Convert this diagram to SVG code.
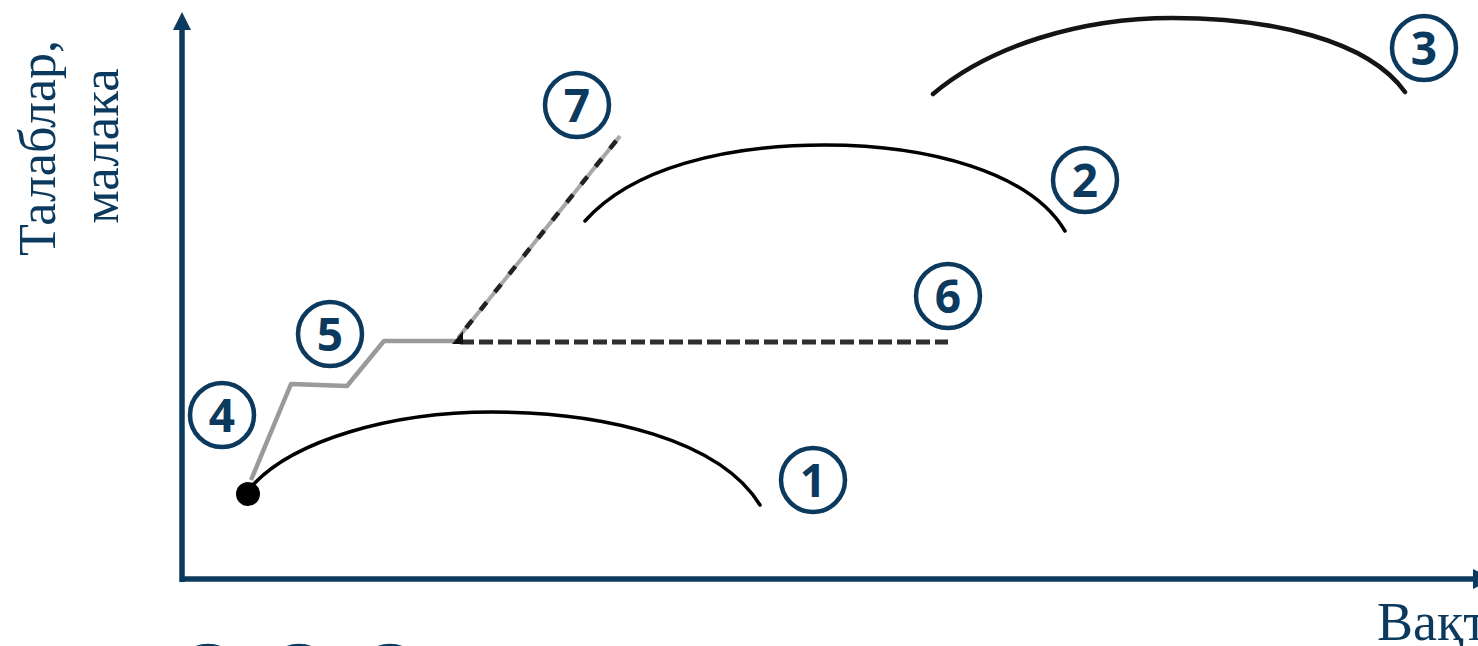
<svg xmlns="http://www.w3.org/2000/svg" width="1478" height="646" viewBox="0 0 1478 646">
<defs>
<style>
.axis{stroke:#0b3a5e;stroke-width:5.5;fill:none}
.ahead{fill:#0b3a5e}
.curve{stroke:#000;stroke-width:3.5;fill:none;stroke-linecap:round}
.badge circle{fill:#fff;stroke:#0b3a5e;stroke-width:4.5}
.badge text{font-family:"Open Sans","Noto Sans",sans-serif;font-weight:700;font-size:46px;fill:#0b3a5e;text-anchor:middle}
.lbl{font-family:"Liberation Serif","Times New Roman",serif;fill:#0b3a5e;text-anchor:middle}
</style>
</defs>
<rect width="1478" height="646" fill="#fff"/>
<g id="axes">
<line class="axis" x1="182" y1="582" x2="182" y2="28"/>
<polygon class="ahead" points="182,12 173,30 191,30"/>
<line class="axis" x1="180" y1="579" x2="1476" y2="579"/>
<polygon class="ahead" points="1494,579 1473,569 1473,589"/>
</g>
<g id="axis-labels">
<text class="lbl" font-size="52" transform="translate(55,148) rotate(-90)">Талаблар,</text>
<text class="lbl" font-size="53" transform="translate(118,146) rotate(-90)">малака</text>
<text class="lbl" font-size="54" x="1377" y="640" style="text-anchor:start">Вақт</text>
</g>
<g id="connectors">
<path id="curve1" class="curve" d="M250,488 C292,440 392,412 492,412 C605,412 720,440 760,505"/>
<path id="curve2" class="curve" d="M585,221 C632,168 725,145 825,145 C928,145 1030,172 1065,231"/>
<path id="curve3" class="curve" style="stroke:#141414;stroke-width:4.5" d="M933,94 C990,46 1080,18 1172,18 C1272,18 1368,40 1405,92"/>
<path id="steps" d="M251,480 L291,384 L347,386 L384,341 L458,341" fill="none" stroke="#9a9a9a" stroke-width="4.5" stroke-linejoin="round"/>
<line id="line6" x1="460" y1="342" x2="948" y2="342" stroke="#2e2e2e" stroke-width="5" stroke-dasharray="14 5"/>
<line x1="458" y1="338" x2="620" y2="136" stroke="#a8a8a8" stroke-width="4"/>
<line id="line7" x1="466" y1="328" x2="620" y2="136" stroke="#222" stroke-width="4.5" stroke-dasharray="10 13"/>
<polygon points="452,344 463,344 463,331" fill="#111"/>
</g>
<g id="dot"><circle cx="248" cy="494" r="12" fill="#000"/></g>
<g id="badge1" class="badge"><circle cx="813" cy="480" r="32"/><text x="813" y="497">1</text></g>
<g id="badge2" class="badge"><circle cx="1085" cy="180" r="32"/><text x="1085" y="197">2</text></g>
<g id="badge3" class="badge"><circle cx="1424" cy="48" r="32"/><text x="1424" y="65">3</text></g>
<g id="badge4" class="badge"><circle cx="222" cy="415" r="32"/><text x="222" y="432">4</text></g>
<g id="badge5" class="badge"><circle cx="330" cy="334" r="32"/><text x="330" y="351">5</text></g>
<g id="badge6" class="badge"><circle cx="948" cy="296" r="32"/><text x="948" y="313">6</text></g>
<g id="badge7" class="badge"><circle cx="577" cy="105" r="32"/><text x="577" y="122">7</text></g>
<g id="badge-a" class="badge"><circle cx="208" cy="678" r="32"/></g>
<g id="badge-b" class="badge"><circle cx="299" cy="678" r="32"/></g>
<g id="badge-c" class="badge"><circle cx="390" cy="678" r="32"/></g>
</svg>
